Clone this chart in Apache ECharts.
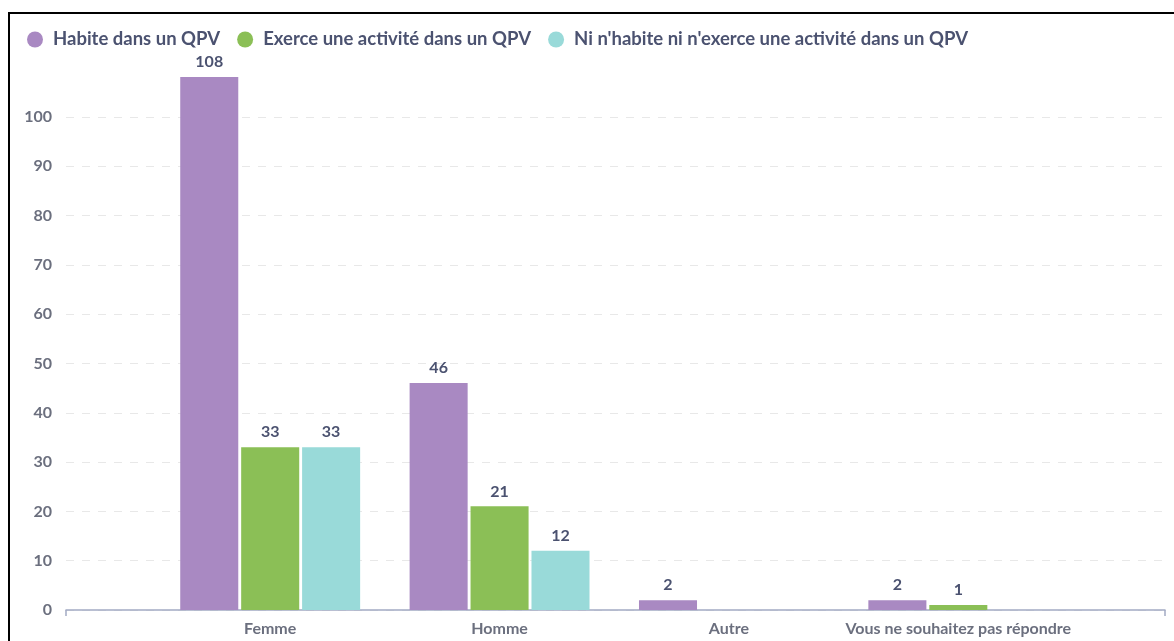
<!DOCTYPE html>
<html>
<head>
<meta charset="utf-8">
<script src="https://cdn.jsdelivr.net/npm/echarts@6/dist/echarts.min.js"></script>
<style>
html,body{margin:0;padding:0;background:#fff;}
#frame{position:absolute;left:8px;top:12px;width:1166px;height:629px;border-top:2px solid #000;border-left:2px solid #000;box-sizing:border-box;}
#chart{position:absolute;left:0;top:0;width:1174px;height:641px;}
</style>
</head>
<body>
<div id="frame"></div>
<div id="chart"></div>
<script>
const categories = ['Femme', 'Homme', 'Autre', 'Vous ne souhaitez pas répondre'];
const seriesNames = ['Habite dans un QPV', 'Exerce une activité dans un QPV', "Ni n'habite ni n'exerce une activité dans un QPV"];
const habite = [108, 46, 2, 2];
const exerce = [33, 21, 0, 1];
const ni = [33, 12, 0, 0];
const yTicks = [0, 10, 20, 30, 40, 50, 60, 70, 80, 90, 100];

const colors = ['#a989c2', '#8bbf56', '#99dad9'];
const font = 'Lato, "Open Sans", sans-serif';

const chart = echarts.init(document.getElementById('chart'));
const labelCfg = {
  show: true, position: 'top', distance: 7,
  fontFamily: font, fontWeight: 'bold', fontSize: 16, color: '#4b5270',
  formatter: p => (p.value === 0 ? '' : p.value)
};
const mk = (name, data, i) => ({
  name, type: 'bar', data, xAxisIndex: 1, yAxisIndex: 1,
  barWidth: '25.3%', barGap: '5%',
  itemStyle: { color: colors[i] },
  label: labelCfg
});
chart.setOption({
  animation: false,
  textStyle: { fontFamily: font },
  legend: {
    left: 22, top: 25, itemWidth: 16, itemHeight: 16, itemGap: 17, icon: 'circle',
    textStyle: { fontFamily: font, fontSize: 18.5, fontWeight: 'bold', color: '#4b5270', padding: [0, 0, 0, 5] },
    data: seriesNames
  },
  grid: [
    { left: 66, right: 9, top: 117, bottom: 31 },
    { left: 155.5, width: 917.5, top: 77, bottom: 31 }
  ],
  xAxis: [
    { type: 'category', gridIndex: 0, data: [''],
      axisLine: { lineStyle: { color: '#a3aac4', width: 1.5 } },
      axisTick: { show: true, length: 6, lineStyle: { color: '#a3aac4', width: 1.5 } },
      axisLabel: { show: false } },
    { type: 'category', gridIndex: 1, data: categories,
      axisLine: { show: false }, axisTick: { show: false },
      axisLabel: { interval: 0, fontFamily: font, fontWeight: 'bold', fontSize: 16, color: '#6b6f7e', margin: 11 } }
  ],
  yAxis: [
    { type: 'value', gridIndex: 0, min: yTicks[0], max: yTicks[yTicks.length - 1], interval: yTicks[1] - yTicks[0],
      axisLine: { show: false }, axisTick: { show: false },
      axisLabel: { fontFamily: font, fontWeight: 'bold', fontSize: 16, color: '#6b6f7e', margin: 14 },
      splitLine: { lineStyle: { color: '#e8e8e8', type: [8, 8], width: 1 } } },
    { type: 'value', gridIndex: 1, min: 0, max: 'dataMax', show: false, splitLine: { show: false } }
  ],
  series: [mk(seriesNames[0], habite, 0), mk(seriesNames[1], exerce, 1), mk(seriesNames[2], ni, 2)]
});
</script>
</body>
</html>
